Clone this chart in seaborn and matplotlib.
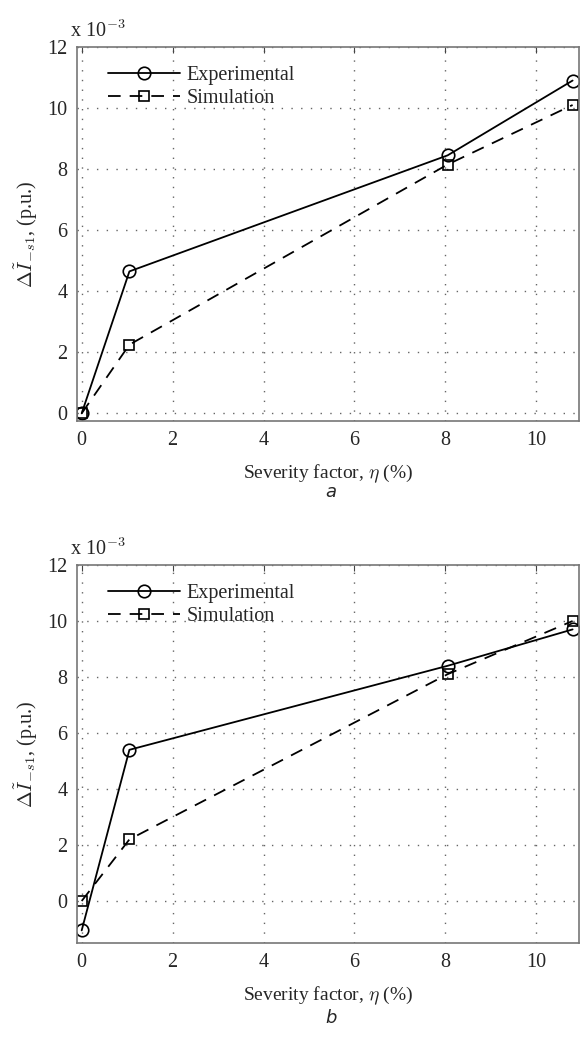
import matplotlib
matplotlib.use("Agg")
import matplotlib.pyplot as plt
import seaborn as sns
import pandas as pd
import numpy as np

# Data (x in %, y in units of 1e-3 p.u.)
eta = [0.0, 1.05, 8.05, 10.8]
exp_a = [0.0, 4.65, 8.45, 10.9]
sim_a = [0.0, 2.25, 8.15, 10.1]
exp_b = [-1.05, 5.4, 8.4, 9.7]
sim_b = [0.0, 2.2, 8.1, 10.0]
xticks = [0, 2, 4, 6, 8, 10]
yticks = [0, 2, 4, 6, 8, 10, 12]
panel_labels = ["a", "b"]

sns.set_style("white")
plt.rcParams['font.family'] = ['Liberation Serif', 'DejaVu Serif']
plt.rcParams['mathtext.fontset'] = 'cm'

fig = plt.figure(figsize=(5.8, 10.39), dpi=100)
ax_a = fig.add_axes([0.133, 0.5948, 0.866, 0.36])
ax_b = fig.add_axes([0.133, 0.0924, 0.866, 0.3638])

def draw(ax, exp, sim, ylim):
    df = pd.DataFrame({"x": eta, "exp": exp, "sim": sim})
    sns.lineplot(data=df, x="x", y="exp", ax=ax, color="black", lw=1.3,
                 marker="o", markersize=9, markerfacecolor="none",
                 markeredgecolor="black", markeredgewidth=1.2,
                 label="Experimental", sort=False)
    sns.lineplot(data=df, x="x", y="sim", ax=ax, color="black", lw=1.3,
                 linestyle=(0, (7, 5)), marker="s", markersize=7,
                 markerfacecolor="none", markeredgecolor="black",
                 markeredgewidth=1.2, label="Simulation", sort=False)
    ax.set_xlim(-0.1, 10.95)
    ax.set_ylim(*ylim)
    ax.set_xticks(xticks)
    ax.set_yticks(yticks)
    ax.grid(True, linestyle=(0, (1, 6)), color="#666666", linewidth=1.0)
    ax.tick_params(direction="in", length=4, labelsize=14.5, top=True,
                   right=False, color="#444444", pad=7)
    for s in ax.spines.values():
        s.set_color("#777777")
        s.set_linewidth(1.2)
    ax.set_xlabel(r"Severity factor, $\eta$ (%)", fontsize=14, labelpad=9)
    ax.set_ylabel(r"$\Delta\tilde{I}_{-s1}$, (p.u.)", fontsize=14.5, labelpad=5)
    ax.legend(loc="upper left", frameon=False, fontsize=14.5,
              handlelength=3.6, handletextpad=0.3, borderaxespad=0.25,
              labelspacing=0.2, bbox_to_anchor=(0.035, 0.985))
    ax.text(-0.015, 1.012, r"x 10$^{-3}$", transform=ax.transAxes,
            fontsize=14.5, ha="left", va="bottom")

draw(ax_a, exp_a, sim_a, (-0.25, 12))
draw(ax_b, exp_b, sim_b, (-1.5, 12))

fig.text(0.57, 0.5265, panel_labels[0], fontsize=13, style="italic",
         family="DejaVu Sans", ha="center", va="center")
fig.text(0.57, 0.0202, panel_labels[1], fontsize=13, style="italic",
         family="DejaVu Sans", ha="center", va="center")

fig.savefig("out.png", dpi=100)
